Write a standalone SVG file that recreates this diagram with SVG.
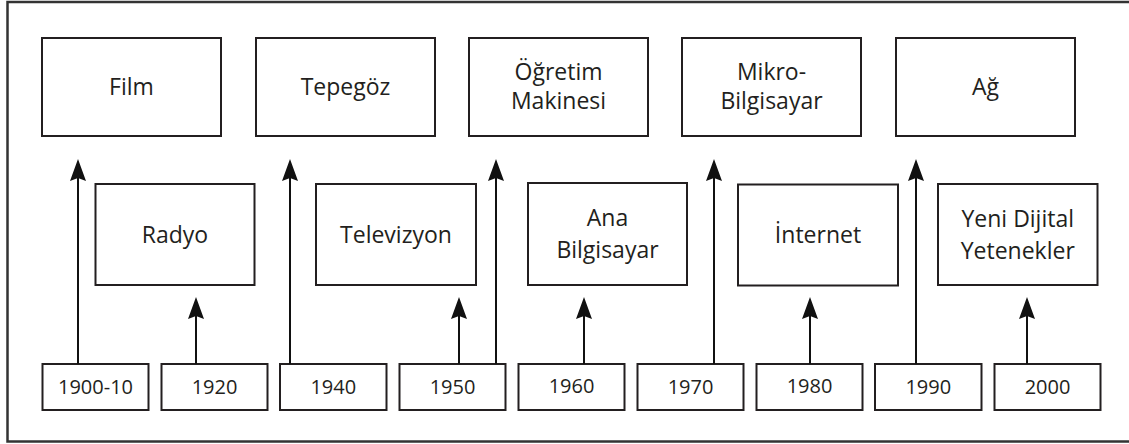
<svg xmlns="http://www.w3.org/2000/svg" width="1129" height="444" viewBox="0 0 1129 444">
<style>
.box{fill:#fff;stroke:#231f20;stroke-width:2}
.lbl{font-family:"Open Sans","Noto Sans","Liberation Sans",sans-serif;font-size:23px;fill:#231f20;text-anchor:middle}
.yr{font-family:"Open Sans","Noto Sans","Liberation Sans",sans-serif;font-size:20px;fill:#231f20;text-anchor:middle}
.conn line{stroke:#111;stroke-width:2;marker-end:url(#ah)}
</style>
<defs>
<marker id="ah" viewBox="0 -8 22 16" refX="10" refY="0" markerWidth="22" markerHeight="16" markerUnits="userSpaceOnUse" orient="auto">
<path d="M0,-8 L22,0 L0,8 L3,0 Z" fill="#111"/>
</marker>
</defs>
<rect x="7.5" y="2" width="1130" height="439.5" fill="#fff" stroke="#333" stroke-width="2.5"/>

<g id="film"><rect class="box" x="42" y="38" width="179" height="98"/><text class="lbl" x="131.5" y="95">Film</text></g>
<g id="tepegoz"><rect class="box" x="256" y="38" width="179" height="98"/><text class="lbl" x="345.5" y="95">Tepegöz</text></g>
<g id="ogretim"><rect class="box" x="469" y="38" width="179" height="98"/><text class="lbl" x="558.5" y="80">Öğretim</text><text class="lbl" x="558.5" y="109">Makinesi</text></g>
<g id="mikro"><rect class="box" x="682" y="38" width="179" height="98"/><text class="lbl" x="771.5" y="80">Mikro-</text><text class="lbl" x="771.5" y="109">Bilgisayar</text></g>
<g id="ag"><rect class="box" x="896" y="38" width="179" height="98"/><text class="lbl" x="985.5" y="95">Ağ</text></g>

<g id="radyo"><rect class="box" x="95.5" y="184" width="159" height="101"/><text class="lbl" x="175" y="243">Radyo</text></g>
<g id="televizyon"><rect class="box" x="316" y="184" width="160" height="101"/><text class="lbl" x="396" y="243">Televizyon</text></g>
<g id="anabilgisayar"><rect class="box" x="528" y="183" width="159" height="102"/><text class="lbl" x="607.5" y="226">Ana</text><text class="lbl" x="607.5" y="258">Bilgisayar</text></g>
<g id="internet"><rect class="box" x="738" y="184.5" width="160" height="101"/><text class="lbl" x="818" y="243">İnternet</text></g>
<g id="yeni"><rect class="box" x="938" y="184" width="159.5" height="101"/><text class="lbl" x="1017.75" y="226.5">Yeni Dijital</text><text class="lbl" x="1017.75" y="258.5">Yetenekler</text></g>

<g id="y1900"><rect class="box" x="42.5" y="364" width="106" height="46"/><text class="yr" x="95.5" y="394">1900-10</text></g>
<g id="y1920"><rect class="box" x="161.5" y="364" width="106" height="46"/><text class="yr" x="214.5" y="394">1920</text></g>
<g id="y1940"><rect class="box" x="280" y="364" width="106.5" height="46"/><text class="yr" x="333.25" y="394">1940</text></g>
<g id="y1950"><rect class="box" x="399.5" y="364" width="106" height="46"/><text class="yr" x="452.5" y="394">1950</text></g>
<g id="y1960"><rect class="box" x="518.5" y="364" width="106" height="46"/><text class="yr" x="571.5" y="393">1960</text></g>
<g id="y1970"><rect class="box" x="637.5" y="364" width="106" height="46"/><text class="yr" x="690.5" y="394">1970</text></g>
<g id="y1980"><rect class="box" x="756.5" y="364" width="106" height="46"/><text class="yr" x="809.5" y="393">1980</text></g>
<g id="y1990"><rect class="box" x="875" y="364" width="106.5" height="46"/><text class="yr" x="928.25" y="394">1990</text></g>
<g id="y2000"><rect class="box" x="994.5" y="364" width="106" height="46"/><text class="yr" x="1047.5" y="394">2000</text></g>

<g id="connectors" class="conn">
<line x1="78" y1="364" x2="78" y2="171"/>
<line x1="196" y1="364" x2="196" y2="309"/>
<line x1="290" y1="364" x2="290" y2="171"/>
<line x1="459" y1="364" x2="459" y2="309"/>
<line x1="496" y1="364" x2="496" y2="171"/>
<line x1="584" y1="364" x2="584" y2="309"/>
<line x1="714" y1="364" x2="714" y2="171"/>
<line x1="810" y1="364" x2="810" y2="309"/>
<line x1="916" y1="364" x2="916" y2="171"/>
<line x1="1027" y1="364" x2="1027" y2="309"/>
</g>
</svg>
